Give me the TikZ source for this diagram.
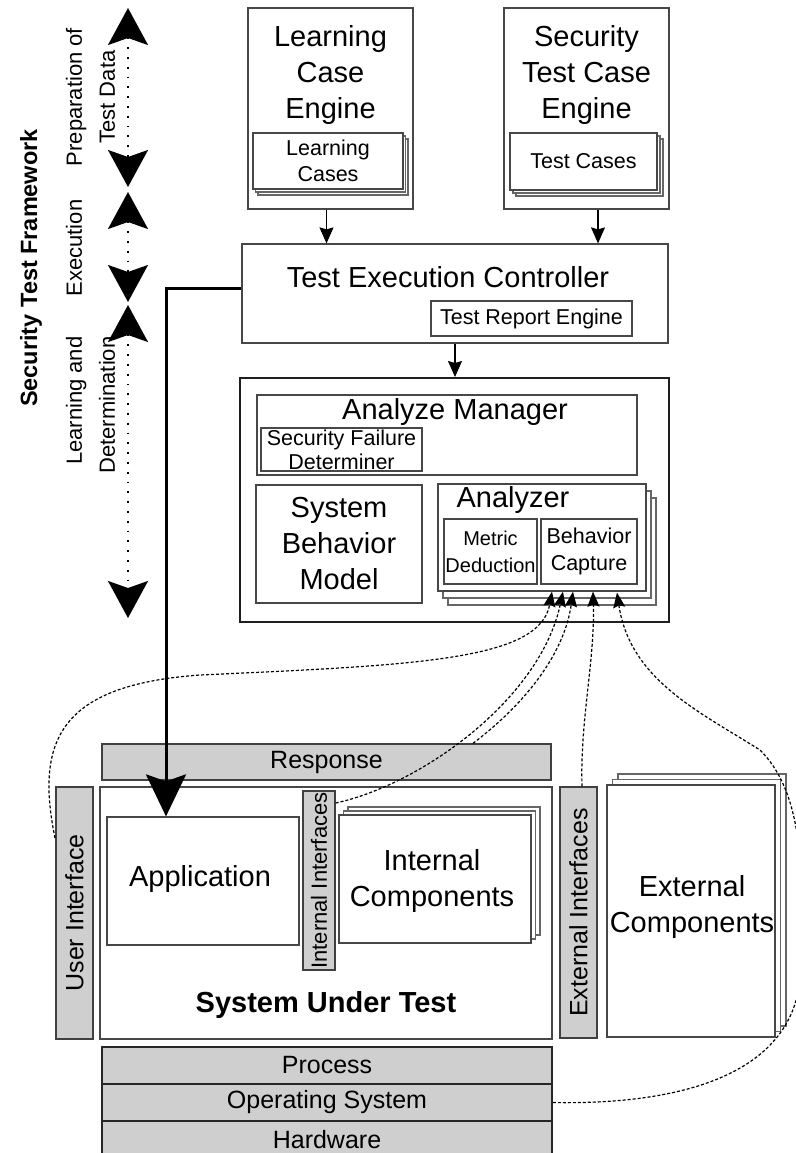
\documentclass[tikz,border=0pt]{standalone}
\usepackage{fontspec}
\setmainfont{Liberation Sans}
\usetikzlibrary{arrows.meta,calc}
\begin{document}
\begin{tikzpicture}[x=1pt,y=-1pt,
  box/.style={draw=black!72, line width=1.2pt, fill=white, inner sep=0pt},
  layer/.style={draw=black!60, line width=1.1pt, fill=white},
  graybar/.style={draw=black!75, line width=1.3pt, fill=black!19, inner sep=0pt},
  stackbar/.style={draw=black!85, line width=1.5pt, fill=black!19, inner sep=0pt},
  big/.style={font=\fontsize{29}{36}\selectfont, align=center, inner sep=0pt},
  small/.style={font=\fontsize{21.5}{26}\selectfont, align=center, inner sep=0pt},
  mid/.style={font=\fontsize{25}{30}\selectfont, align=center, inner sep=0pt},
  side/.style={font=\fontsize{22}{33}\selectfont, align=center, inner sep=0pt, rotate=90},
  thin arrow/.style={line width=1.2pt, -{Stealth[length=16pt,width=14pt,inset=2pt]}},
  dotarrow/.style={line width=1.2pt, dash pattern=on 3pt off 2pt, -{Stealth[length=15pt,width=12pt,inset=2pt]}},
  bigtip/.tip={Stealth[length=37pt,width=40pt,inset=7pt]},
  phase/.style={line width=1.8pt, dash pattern=on 1.8pt off 8pt, bigtip-bigtip},
]
\useasboundingbox (0,0) rectangle (795,1153);

% ---------- left phase labels ----------
\node[font=\bfseries\fontsize{23.5}{28}\selectfont, rotate=90, inner sep=0pt] (stf) at (31,268) {Security Test Framework};
\node[side] (prep) at (90.5,97) {Preparation of\\Test Data};
\node[side] (exec) at (74,248) {Execution};
\node[side, align=right] (learn) at (90.5,405) {Learning and\\Determination};
\coordinate (p1a) at (128,8);   \coordinate (p1b) at (128,187);
\coordinate (p2a) at (128,192); \coordinate (p2b) at (128,302);
\coordinate (p3a) at (128,305); \coordinate (p3b) at (128,618);
\draw[phase] (p1a) -- (p1b);
\draw[phase] (p2a) -- (p2b);
\draw[phase] (p3a) -- (p3b);

% ---------- engines ----------
\node[box, minimum width=165, minimum height=201] (lce) at (330.5,108.5) {};
\node[big] (lcet) at (330.5,75) {Learning\\Case\\Engine};
\draw[layer] (258,139) rectangle (408,195);
\draw[layer] (255.5,136) rectangle (405.5,192);
\node[box, minimum width=150, minimum height=56, small] (lc) at (328,161) {Learning\\Cases};

\node[box, minimum width=165, minimum height=201] (stc) at (586.5,108.5) {};
\node[big] (stct) at (586.5,75) {Security\\Test Case\\Engine};
\draw[layer] (516,139) rectangle (663,196);
\draw[layer] (513,136) rectangle (660,193);
\node[box, minimum width=147, minimum height=57, small] (tc) at (583.5,161.5) {Test Cases};

% ---------- test execution controller ----------
\node[box, minimum width=426, minimum height=99] (tec) at (455,293.5) {};
\node[big] (tect) at (448,277) {Test Execution Controller};
\node[box, minimum width=201, minimum height=35, small] (tre) at (531.5,318.5) {Test Report Engine};

\draw[thin arrow] ($(lce.south)+(-4,0)$) -- ($(lce.south |- tec.north)+(-4,0)$);
\draw[thin arrow] ($(stc.south)+(11.5,0)$) -- ($(stc.south |- tec.north)+(11.5,0)$);

% ---------- analysis ----------
\node[draw=black!88, line width=2pt, fill=white, minimum width=429, minimum height=244, inner sep=0pt] (analysis) at (454.5,500) {};
\draw[thin arrow] (tec.south) -- (tec.south |- analysis.north);

\node[box, minimum width=380, minimum height=80] (am) at (447,435) {};
\node[big] (amt) at (455,412) {Analyze Manager};
\node[box, minimum width=161, minimum height=43, font=\fontsize{21.5}{24}\selectfont, align=center] (sfd) at (341.5,449.5) {Security Failure\\Determiner};

\node[box, minimum width=166, minimum height=118, big] (sbm) at (339,544) {System\\Behavior\\Model};

\draw[layer] (448,498) rectangle (656,605);
\draw[layer] (443,491) rectangle (651,598);
\node[box, minimum width=208, minimum height=107] (anz) at (542,537.5) {};
\node[big] (anzt) at (513,500) {Analyzer};
\node[box, minimum width=93, minimum height=65, font=\fontsize{20}{27}\selectfont, align=center] (md) at (490.5,551.5) {Metric\\Deduction};
\node[box, minimum width=96, minimum height=65, font=\fontsize{21.5}{27}\selectfont, align=center] (bc) at (589,551.5) {Behavior\\Capture};

% ---------- system under test ----------
\node[graybar, minimum width=449, minimum height=36, mid] (resp) at (326.5,762) {Response};
\node[box, minimum width=452, minimum height=252] (sut) at (326,913) {};
\node[font=\bfseries\fontsize{29}{34}\selectfont, inner sep=0pt] (sutt) at (326,1005) {System Under Test};
\node[graybar, minimum width=252, minimum height=37, mid, rotate=90] (ui) at (74.5,913) {User Interface};
\node[box, minimum width=192, minimum height=128] (app) at (203,881) {};
\node[big] (appt) at (200,879) {Application};
\node[graybar, minimum width=179, minimum height=32, rotate=90, font=\fontsize{22}{26}\selectfont] (ii) at (319,880.5) {Internal Interfaces};
\draw[layer] (348,807) rectangle (540,935);
\draw[layer] (343.5,811) rectangle (535.5,939);
\node[box, minimum width=192, minimum height=128] (ic) at (435,879) {};
\node[big] (ict) at (432,881) {Internal\\Components};

\node[graybar, minimum width=251, minimum height=37, mid, rotate=90] (ei) at (578.5,912.5) {External Interfaces};
\draw[layer] (618,774) rectangle (786,1026);
\draw[layer] (612.5,779.5) rectangle (780.5,1031.5);
\node[box, minimum width=168, minimum height=252] (ec) at (691,911) {};
\node[big] (ect) at (692,907) {External\\Components};

\node[stackbar, minimum width=450, minimum height=37, mid] (proc) at (327,1065.5) {Process};
\node[stackbar, minimum width=450, minimum height=37, mid] (os) at (327,1102.5) {Operating System};
\node[stackbar, minimum width=450, minimum height=41, mid] (hw) at (327,1141.5) {};
\node[mid] (hwt) at (327,1140) {Hardware};

% ---------- thick control arrow ----------
\coordinate (bend) at (166,288);
\draw[line width=3pt, -{Stealth[length=42pt,width=40pt,inset=7pt]}]
  (tec.west |- bend) -- (bend) -- (bend |- app.north);

% ---------- monitoring connectors ----------
\coordinate (t1) at ($(anz.south)+(10,0)$);
\coordinate (t2) at ($(anz.south)+(21,0)$);
\coordinate (t3) at ($(anz.south)+(31,0)$);
\coordinate (t4) at ($(anz.south)+(51,0)$);
\coordinate (t5) at ($(anz.south)+(75,1)$);
\coordinate (s1) at (55,838);
\coordinate (s2) at (ii.south |- 0,803);
\coordinate (s3) at (resp.north -| 473,0);
\coordinate (s4) at (ei.east -| 582,0);
\coordinate (s5) at (os.east);

\draw[dotarrow] (s1) .. controls (35,740) and (60,685) .. (200,675)
  .. controls (420,665) and (540,660) .. (t1);
\draw[dotarrow] (s2) .. controls (420,785) and (540,700) .. (t2);
\draw[dotarrow] (s3) .. controls (530,700) and (565,650) .. (t3);
\draw[dotarrow] (s4) .. controls (580,720) and (595,660) .. (t4);
\draw[dotarrow] (s5) .. controls (680,1105) and (790,1075) .. (800,980)
  .. controls (806,860) and (800,790) .. (760,750)
  .. controls (700,712) and (630,680) .. (t5);
\end{tikzpicture}
\end{document}
